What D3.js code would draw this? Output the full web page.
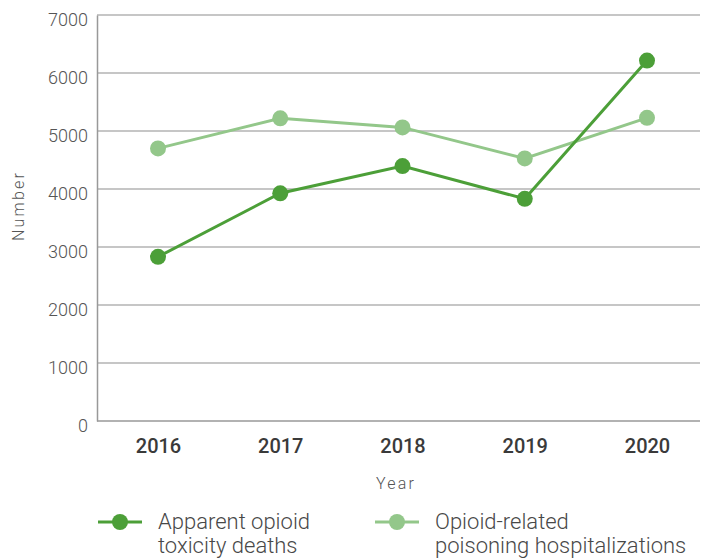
<!DOCTYPE html>
<html><head><meta charset="utf-8">
<script src="https://cdn.jsdelivr.net/npm/d3@7/dist/d3.min.js"></script>
<style>
body{margin:0;background:#fff;}
text{font-family:Roboto,"Noto Sans",sans-serif;}
</style></head>
<body><svg id="c" width="706" height="558"></svg>
<script>
const years = ["2016","2017","2018","2019","2020"];
const deaths = [2831, 3926, 4395, 3831, 6214];
const hospitalizations = [4700, 5218, 5062, 4527, 5227];
const yTicks = [0,1000,2000,3000,4000,5000,6000,7000];
const seriesNames = ["Apparent opioid|toxicity deaths","Opioid-related|poisoning hospitalizations"];
const colors = ["#4c9f38","#93c78a"];

const svg = d3.select("#c");
const L=97, R=700, T=15, B=421;
const x = d3.scalePoint().domain(years).range([158,647]);
const y = d3.scaleLinear().domain([0,7000]).range([B,T]);

// grid
svg.append("g").selectAll("line").data(yTicks.filter(d=>d>0)).join("line")
  .attr("x1",L).attr("x2",R).attr("y1",d=>y(d)).attr("y2",d=>y(d))
  .attr("stroke","#b3b3b3").attr("stroke-width",1.5);

// y axis
const ya = svg.append("g").attr("transform",`translate(${L},0)`)
  .call(d3.axisLeft(y).tickValues(yTicks).tickSize(0).tickPadding(9).tickFormat(d3.format("d")));
ya.select(".domain").attr("stroke","#999").attr("stroke-width",1.5);
ya.selectAll("text").attr("font-size",18).attr("font-weight",300).attr("fill","#555").attr("dy","0.6em");

// x axis
const xa = svg.append("g").attr("transform",`translate(0,${B})`)
  .call(d3.axisBottom(x).tickSize(0).tickPadding(18));
xa.select(".domain").attr("d",`M${L},0H${R}`).attr("stroke","#999").attr("stroke-width",1.5);
xa.selectAll("text").attr("font-size",20).attr("font-weight",500).attr("fill","#3a3a3a");

// axis titles
svg.append("text").attr("x",396).attr("y",489).attr("text-anchor","middle")
  .attr("font-size",16).attr("font-weight",300).attr("fill","#555").attr("letter-spacing",2.2).text("Year");
svg.append("text").attr("transform","translate(24,206) rotate(-90)").attr("text-anchor","middle")
  .attr("font-size",16).attr("font-weight",300).attr("fill","#555").attr("letter-spacing",2.2).text("Number");

// lines
const line = d3.line().x((d,i)=>x(years[i])).y(d=>y(d));
[hospitalizations, deaths].forEach((s,k)=>{
  const c = k===0?colors[1]:colors[0];
  svg.append("path").attr("d",line(s)).attr("fill","none").attr("stroke",c).attr("stroke-width",3);
  svg.append("g").selectAll("circle").data(s).join("circle")
    .attr("cx",(d,i)=>x(years[i])).attr("cy",d=>y(d)).attr("r",8).attr("fill",c);
});

// legend
const lx=[98,375];
seriesNames.forEach((n,i)=>{
  const g = svg.append("g");
  g.append("line").attr("x1",lx[i]).attr("x2",lx[i]+44).attr("y1",522).attr("y2",522)
    .attr("stroke",colors[i]).attr("stroke-width",3);
  g.append("circle").attr("cx",lx[i]+22).attr("cy",522).attr("r",8).attr("fill",colors[i]);
  n.split("|").forEach((t,j)=>{
    g.append("text").attr("x",lx[i]+60).attr("y",529+j*24).attr("font-size",22).attr("font-weight",300)
      .attr("fill","#484848").text(t);
  });
});
</script></body></html>
